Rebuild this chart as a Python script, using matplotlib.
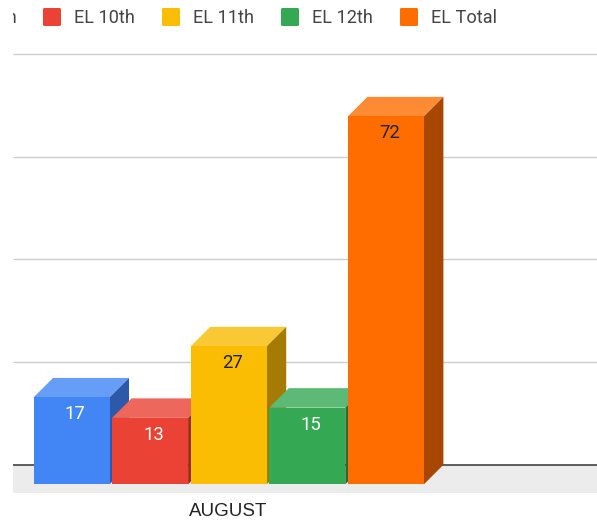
import numpy as np
import matplotlib
matplotlib.use('Agg')
import matplotlib.pyplot as plt
from matplotlib.patches import Polygon, Rectangle, FancyBboxPatch

plt.rcParams['font.family'] = ['Roboto', 'Liberation Sans', 'DejaVu Sans']

months = ['AUGUST']
series = ['EL 9th', 'EL 10th', 'EL 11th', 'EL 12th', 'EL Total']
values = [17, 13, 27, 15, 72]
grid_values = [20, 40, 60, 80]

front = ['#4285f4', '#ea4335', '#fbbc04', '#34a853', '#ff6d01']
top = ['#669df6', '#ee675c', '#f9c935', '#5dba76', '#ff8a34']
side = ['#2c59a8', '#992c23', '#a57b03', '#226e36', '#a74701']
label_col = ['white', 'white', '#222222', 'white', '#222222']

W, H = 597, 520
px_per_val = 5.11
y0_px = 484.3  # front base of the bars
depth = 19.5
grid_scale = 5.1375/px_per_val  # grid lines are spaced a bit wider than the bars

fig = plt.figure(figsize=(W/100, H/100), dpi=100)
ax = fig.add_axes([0, 0, 1, 1])
ax.set_xlim(0, W)
# y in data units, ylim worked out from pixel positions
ax.set_ylim((y0_px - H)/px_per_val, y0_px/px_per_val)
ax.axis('off')

dv = depth/px_per_val

# floor and grid
ax.add_patch(Rectangle((13, (y0_px-493)/px_per_val), W-13, dv + 8.7/px_per_val, fc='#ececec', ec='none', zorder=1))
for g in grid_values:
    yg = g*grid_scale + dv
    ax.plot([13, W], [yg, yg], color='#cccccc', lw=1.0, zorder=1, solid_capstyle='butt')
ax.plot([13, W], [dv, dv], color='#333333', lw=1.1, zorder=1.5, solid_capstyle='butt')

# bars, left to right so each one sits on top of the previous
x_left = 33.5
bar_w = 76
step = 78.6
for i, v in enumerate(values):
    x = x_left + i*step
    z = 2 + i
    ax.bar(x, v, width=bar_w, align='edge', color=front[i], zorder=z+0.2)
    ax.add_patch(Polygon([(x, v), (x+bar_w, v), (x+bar_w+depth, v+dv), (x+depth, v+dv)],
                         fc=top[i], ec='none', zorder=z))
    ax.add_patch(Polygon([(x+bar_w, 0), (x+bar_w+depth, dv), (x+bar_w+depth, v+dv), (x+bar_w, v)],
                         fc=side[i], ec='none', zorder=z))
    ax.text(x+bar_w/2+3.5, v-17/px_per_val, str(v), color=label_col[i], fontsize=13.3,
            ha='center', va='center', zorder=20)

# category label
ax.text(228.5, (y0_px-511)/px_per_val, months[0], color='#222222', fontsize=13.5,
        family='Liberation Sans', ha='center', va='center')

# legend, first entry is cut off by the left edge
leg_x = [-85, 43, 162, 281, 400]
clip = Rectangle((13, (y0_px-H)/px_per_val), W, H/px_per_val, transform=ax.transData)
for i, name in enumerate(series):
    box = FancyBboxPatch((leg_x[i], (y0_px-26)/px_per_val), 18, 18/px_per_val,
                         boxstyle='round,pad=0,rounding_size=1.5', mutation_aspect=1/px_per_val,
                         fc=front[i], ec='none', zorder=5)
    ax.add_patch(box)
    t = ax.text(leg_x[i]+31, (y0_px-17.5)/px_per_val, name, color='#444444', fontsize=13.1,
                ha='left', va='center', zorder=5)
    if i == 0:
        t.set_x(17)
        t.set_ha('right')
        t.set_clip_on(True)
        t.set_clip_path(clip)
        box.set_visible(False)

fig.savefig('out.png', dpi=100)
